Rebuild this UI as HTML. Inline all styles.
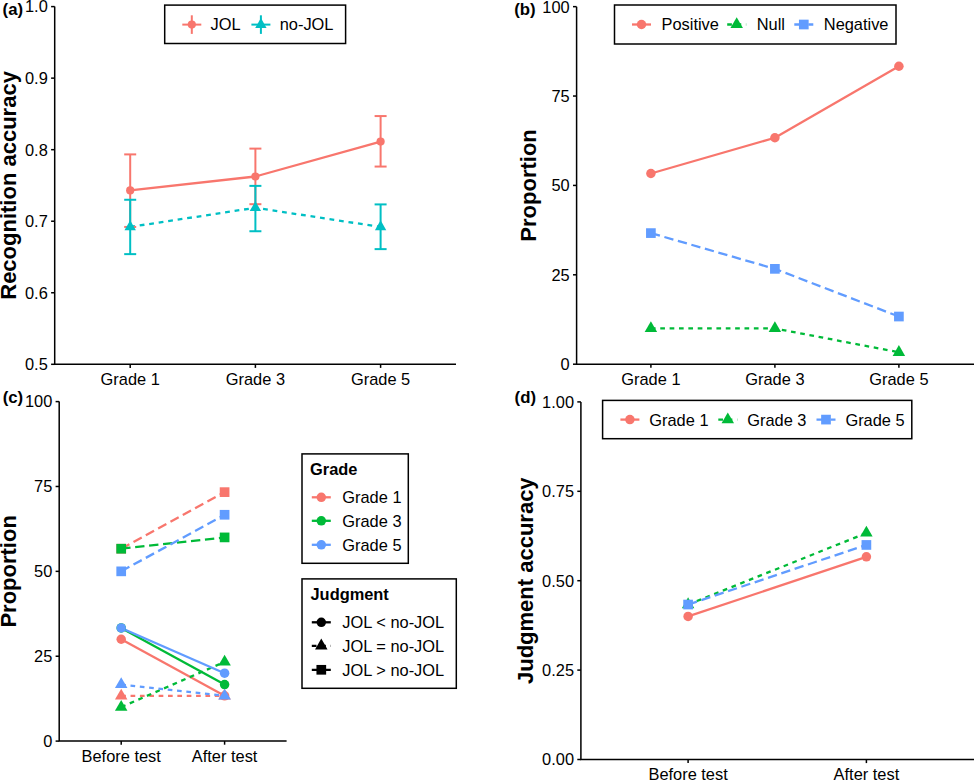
<!DOCTYPE html>
<html><head><meta charset="utf-8"><title>Figure</title>
<style>html,body{margin:0;padding:0;background:#fff;}svg{display:block;}</style>
</head><body>
<svg width="974" height="780" viewBox="0 0 974 780" font-family='"Liberation Sans", Arial, Helvetica, sans-serif'>
<rect width="974" height="780" fill="#fff"/>
<path d="M54.70,6.60 V364.30 H456.00" fill="none" stroke="#000" stroke-width="1.5" stroke-linecap="butt"/>
<line x1="51.10" y1="364.30" x2="54.70" y2="364.30" stroke="#000" stroke-width="1.5" stroke-linecap="butt"/>
<text x="47.80" y="370.17" font-size="16.4" text-anchor="end" fill="#000">0.5</text>
<line x1="51.10" y1="292.76" x2="54.70" y2="292.76" stroke="#000" stroke-width="1.5" stroke-linecap="butt"/>
<text x="47.80" y="298.63" font-size="16.4" text-anchor="end" fill="#000">0.6</text>
<line x1="51.10" y1="221.22" x2="54.70" y2="221.22" stroke="#000" stroke-width="1.5" stroke-linecap="butt"/>
<text x="47.80" y="227.09" font-size="16.4" text-anchor="end" fill="#000">0.7</text>
<line x1="51.10" y1="149.68" x2="54.70" y2="149.68" stroke="#000" stroke-width="1.5" stroke-linecap="butt"/>
<text x="47.80" y="155.55" font-size="16.4" text-anchor="end" fill="#000">0.8</text>
<line x1="51.10" y1="78.14" x2="54.70" y2="78.14" stroke="#000" stroke-width="1.5" stroke-linecap="butt"/>
<text x="47.80" y="84.01" font-size="16.4" text-anchor="end" fill="#000">0.9</text>
<line x1="51.10" y1="6.60" x2="54.70" y2="6.60" stroke="#000" stroke-width="1.5" stroke-linecap="butt"/>
<text x="47.80" y="12.47" font-size="16.4" text-anchor="end" fill="#000">1.0</text>
<line x1="130.20" y1="364.30" x2="130.20" y2="367.90" stroke="#000" stroke-width="1.5" stroke-linecap="butt"/>
<text x="130.20" y="384.84" font-size="16.4" text-anchor="middle" fill="#000">Grade 1</text>
<line x1="255.40" y1="364.30" x2="255.40" y2="367.90" stroke="#000" stroke-width="1.5" stroke-linecap="butt"/>
<text x="255.40" y="384.84" font-size="16.4" text-anchor="middle" fill="#000">Grade 3</text>
<line x1="380.60" y1="364.30" x2="380.60" y2="367.90" stroke="#000" stroke-width="1.5" stroke-linecap="butt"/>
<text x="380.60" y="384.84" font-size="16.4" text-anchor="middle" fill="#000">Grade 5</text>
<text x="16.20" y="185.45" font-size="22.0" text-anchor="middle" font-weight="bold" transform="rotate(-90 16.20 185.45)" fill="#000">Recognition accuracy</text>
<text x="2.60" y="15.00" font-size="16.8" text-anchor="start" font-weight="bold" fill="#000">(a)</text>
<polyline points="130.20,190.46 255.40,176.51 380.60,141.60" fill="none" stroke="#F8766D" stroke-width="2.3" stroke-linejoin="round"/>
<polyline points="130.20,226.94 255.40,207.77 380.60,226.94" fill="none" stroke="#00BFC4" stroke-width="2.3" stroke-dasharray="4.8 4.8" stroke-linejoin="round"/>
<line x1="130.20" y1="226.94" x2="130.20" y2="154.40" stroke="#F8766D" stroke-width="2.0" stroke-linecap="butt"/>
<line x1="124.20" y1="226.94" x2="136.20" y2="226.94" stroke="#F8766D" stroke-width="2.0" stroke-linecap="butt"/>
<line x1="124.20" y1="154.40" x2="136.20" y2="154.40" stroke="#F8766D" stroke-width="2.0" stroke-linecap="butt"/>
<line x1="255.40" y1="204.19" x2="255.40" y2="148.61" stroke="#F8766D" stroke-width="2.0" stroke-linecap="butt"/>
<line x1="249.40" y1="204.19" x2="261.40" y2="204.19" stroke="#F8766D" stroke-width="2.0" stroke-linecap="butt"/>
<line x1="249.40" y1="148.61" x2="261.40" y2="148.61" stroke="#F8766D" stroke-width="2.0" stroke-linecap="butt"/>
<line x1="380.60" y1="166.56" x2="380.60" y2="116.06" stroke="#F8766D" stroke-width="2.0" stroke-linecap="butt"/>
<line x1="374.60" y1="166.56" x2="386.60" y2="166.56" stroke="#F8766D" stroke-width="2.0" stroke-linecap="butt"/>
<line x1="374.60" y1="116.06" x2="386.60" y2="116.06" stroke="#F8766D" stroke-width="2.0" stroke-linecap="butt"/>
<line x1="130.20" y1="254.13" x2="130.20" y2="199.76" stroke="#00BFC4" stroke-width="2.0" stroke-linecap="butt"/>
<line x1="124.20" y1="254.13" x2="136.20" y2="254.13" stroke="#00BFC4" stroke-width="2.0" stroke-linecap="butt"/>
<line x1="124.20" y1="199.76" x2="136.20" y2="199.76" stroke="#00BFC4" stroke-width="2.0" stroke-linecap="butt"/>
<line x1="255.40" y1="231.24" x2="255.40" y2="185.88" stroke="#00BFC4" stroke-width="2.0" stroke-linecap="butt"/>
<line x1="249.40" y1="231.24" x2="261.40" y2="231.24" stroke="#00BFC4" stroke-width="2.0" stroke-linecap="butt"/>
<line x1="249.40" y1="185.88" x2="261.40" y2="185.88" stroke="#00BFC4" stroke-width="2.0" stroke-linecap="butt"/>
<line x1="380.60" y1="249.12" x2="380.60" y2="204.41" stroke="#00BFC4" stroke-width="2.0" stroke-linecap="butt"/>
<line x1="374.60" y1="249.12" x2="386.60" y2="249.12" stroke="#00BFC4" stroke-width="2.0" stroke-linecap="butt"/>
<line x1="374.60" y1="204.41" x2="386.60" y2="204.41" stroke="#00BFC4" stroke-width="2.0" stroke-linecap="butt"/>
<circle cx="130.20" cy="190.46" r="4.10" fill="#F8766D"/>
<circle cx="255.40" cy="176.51" r="4.10" fill="#F8766D"/>
<circle cx="380.60" cy="141.60" r="4.10" fill="#F8766D"/>
<polygon points="130.20,220.37 135.90,230.23 124.50,230.23" fill="#00BFC4"/>
<polygon points="255.40,201.19 261.10,211.06 249.70,211.06" fill="#00BFC4"/>
<polygon points="380.60,220.37 386.30,230.23 374.90,230.23" fill="#00BFC4"/>
<rect x="164.70" y="5.10" width="180.90" height="38.40" fill="#fff" stroke="#000" stroke-width="1.5"/>
<line x1="182.30" y1="24.60" x2="201.30" y2="24.60" stroke="#F8766D" stroke-width="2.0" stroke-linecap="butt"/>
<line x1="191.80" y1="15.30" x2="191.80" y2="33.90" stroke="#F8766D" stroke-width="2.0" stroke-linecap="butt"/>
<circle cx="191.80" cy="24.60" r="4.10" fill="#F8766D"/>
<line x1="251.40" y1="24.60" x2="270.40" y2="24.60" stroke="#00BFC4" stroke-width="2.0" stroke-linecap="butt"/>
<line x1="260.90" y1="15.30" x2="260.90" y2="33.90" stroke="#00BFC4" stroke-width="2.0" stroke-linecap="butt"/>
<polygon points="260.90,18.02 266.60,27.89 255.20,27.89" fill="#00BFC4"/>
<text x="210.50" y="30.47" font-size="16.4" text-anchor="start" fill="#000">JOL</text>
<text x="279.70" y="30.47" font-size="16.4" text-anchor="start" fill="#000">no-JOL</text>
<path d="M576.60,6.65 V364.20 H975.00" fill="none" stroke="#000" stroke-width="1.5" stroke-linecap="butt"/>
<line x1="573.00" y1="364.20" x2="576.60" y2="364.20" stroke="#000" stroke-width="1.5" stroke-linecap="butt"/>
<text x="569.70" y="370.07" font-size="16.4" text-anchor="end" fill="#000">0</text>
<line x1="573.00" y1="274.81" x2="576.60" y2="274.81" stroke="#000" stroke-width="1.5" stroke-linecap="butt"/>
<text x="569.70" y="280.68" font-size="16.4" text-anchor="end" fill="#000">25</text>
<line x1="573.00" y1="185.42" x2="576.60" y2="185.42" stroke="#000" stroke-width="1.5" stroke-linecap="butt"/>
<text x="569.70" y="191.30" font-size="16.4" text-anchor="end" fill="#000">50</text>
<line x1="573.00" y1="96.04" x2="576.60" y2="96.04" stroke="#000" stroke-width="1.5" stroke-linecap="butt"/>
<text x="569.70" y="101.91" font-size="16.4" text-anchor="end" fill="#000">75</text>
<line x1="573.00" y1="6.65" x2="576.60" y2="6.65" stroke="#000" stroke-width="1.5" stroke-linecap="butt"/>
<text x="569.70" y="12.52" font-size="16.4" text-anchor="end" fill="#000">100</text>
<line x1="650.90" y1="364.20" x2="650.90" y2="367.80" stroke="#000" stroke-width="1.5" stroke-linecap="butt"/>
<text x="650.90" y="384.74" font-size="16.4" text-anchor="middle" fill="#000">Grade 1</text>
<line x1="774.90" y1="364.20" x2="774.90" y2="367.80" stroke="#000" stroke-width="1.5" stroke-linecap="butt"/>
<text x="774.90" y="384.74" font-size="16.4" text-anchor="middle" fill="#000">Grade 3</text>
<line x1="898.90" y1="364.20" x2="898.90" y2="367.80" stroke="#000" stroke-width="1.5" stroke-linecap="butt"/>
<text x="898.90" y="384.74" font-size="16.4" text-anchor="middle" fill="#000">Grade 5</text>
<text x="536.20" y="185.42" font-size="22.0" text-anchor="middle" font-weight="bold" transform="rotate(-90 536.20 185.42)" fill="#000">Proportion</text>
<text x="514.20" y="15.00" font-size="16.8" text-anchor="start" font-weight="bold" fill="#000">(b)</text>
<polyline points="650.90,173.51 774.90,137.75 898.90,66.24" fill="none" stroke="#F8766D" stroke-width="2.3" stroke-linejoin="round"/>
<polyline points="650.90,328.44 774.90,328.44 898.90,352.28" fill="none" stroke="#00BA38" stroke-width="2.3" stroke-dasharray="4.68 4.68" stroke-linejoin="round"/>
<polyline points="650.90,233.10 774.90,268.85 898.90,316.53" fill="none" stroke="#619CFF" stroke-width="2.3" stroke-dasharray="9.36 4.68" stroke-linejoin="round"/>
<circle cx="650.90" cy="173.51" r="4.75" fill="#F8766D"/>
<circle cx="774.90" cy="137.75" r="4.75" fill="#F8766D"/>
<circle cx="898.90" cy="66.24" r="4.75" fill="#F8766D"/>
<polygon points="650.90,321.24 657.14,332.05 644.66,332.05" fill="#00BA38"/>
<polygon points="774.90,321.24 781.14,332.05 768.66,332.05" fill="#00BA38"/>
<polygon points="898.90,345.08 905.14,355.88 892.66,355.88" fill="#00BA38"/>
<rect x="646.05" y="228.25" width="9.69" height="9.69" fill="#619CFF"/>
<rect x="770.05" y="264.01" width="9.69" height="9.69" fill="#619CFF"/>
<rect x="894.05" y="311.68" width="9.69" height="9.69" fill="#619CFF"/>
<rect x="614.50" y="5.00" width="281.50" height="39.00" fill="#fff" stroke="#000" stroke-width="1.5"/>
<line x1="632.00" y1="24.50" x2="651.00" y2="24.50" stroke="#F8766D" stroke-width="2.3" stroke-linecap="butt"/>
<circle cx="641.50" cy="24.50" r="4.75" fill="#F8766D"/>
<text x="661.50" y="30.37" font-size="16.4" text-anchor="start" fill="#000">Positive</text>
<line x1="727.20" y1="24.50" x2="746.20" y2="24.50" stroke="#00BA38" stroke-width="2.3" stroke-linecap="butt" stroke-dasharray="4.68 4.68"/>
<polygon points="736.70,17.30 742.94,28.10 730.46,28.10" fill="#00BA38"/>
<text x="756.70" y="30.37" font-size="16.4" text-anchor="start" fill="#000">Null</text>
<line x1="794.30" y1="24.50" x2="813.30" y2="24.50" stroke="#619CFF" stroke-width="2.3" stroke-linecap="butt" stroke-dasharray="9.36 4.68"/>
<rect x="798.95" y="19.66" width="9.69" height="9.69" fill="#619CFF"/>
<text x="823.80" y="30.37" font-size="16.4" text-anchor="start" fill="#000">Negative</text>
<path d="M59.20,401.60 V741.10 H286.60" fill="none" stroke="#000" stroke-width="1.5" stroke-linecap="butt"/>
<line x1="55.60" y1="741.10" x2="59.20" y2="741.10" stroke="#000" stroke-width="1.5" stroke-linecap="butt"/>
<text x="52.30" y="746.97" font-size="16.4" text-anchor="end" fill="#000">0</text>
<line x1="55.60" y1="656.23" x2="59.20" y2="656.23" stroke="#000" stroke-width="1.5" stroke-linecap="butt"/>
<text x="52.30" y="662.10" font-size="16.4" text-anchor="end" fill="#000">25</text>
<line x1="55.60" y1="571.35" x2="59.20" y2="571.35" stroke="#000" stroke-width="1.5" stroke-linecap="butt"/>
<text x="52.30" y="577.22" font-size="16.4" text-anchor="end" fill="#000">50</text>
<line x1="55.60" y1="486.48" x2="59.20" y2="486.48" stroke="#000" stroke-width="1.5" stroke-linecap="butt"/>
<text x="52.30" y="492.35" font-size="16.4" text-anchor="end" fill="#000">75</text>
<line x1="55.60" y1="401.60" x2="59.20" y2="401.60" stroke="#000" stroke-width="1.5" stroke-linecap="butt"/>
<text x="52.30" y="407.47" font-size="16.4" text-anchor="end" fill="#000">100</text>
<line x1="121.20" y1="741.10" x2="121.20" y2="744.70" stroke="#000" stroke-width="1.5" stroke-linecap="butt"/>
<text x="121.20" y="761.64" font-size="16.4" text-anchor="middle" fill="#000">Before test</text>
<line x1="224.60" y1="741.10" x2="224.60" y2="744.70" stroke="#000" stroke-width="1.5" stroke-linecap="butt"/>
<text x="224.60" y="761.64" font-size="16.4" text-anchor="middle" fill="#000">After test</text>
<text x="16.50" y="571.35" font-size="22.0" text-anchor="middle" font-weight="bold" transform="rotate(-90 16.50 571.35)" fill="#000">Proportion</text>
<text x="2.70" y="403.40" font-size="16.8" text-anchor="start" font-weight="bold" fill="#000">(c)</text>
<polyline points="121.20,639.25 224.60,695.83" fill="none" stroke="#F8766D" stroke-width="2.3" stroke-linejoin="round"/>
<polyline points="121.20,695.83 224.60,695.83" fill="none" stroke="#F8766D" stroke-width="2.3" stroke-dasharray="4.68 4.68" stroke-linejoin="round"/>
<polyline points="121.20,548.72 224.60,492.13" fill="none" stroke="#F8766D" stroke-width="2.3" stroke-dasharray="9.36 4.68" stroke-linejoin="round"/>
<polyline points="121.20,627.93 224.60,684.52" fill="none" stroke="#00BA38" stroke-width="2.3" stroke-linejoin="round"/>
<polyline points="121.20,707.15 224.60,661.88" fill="none" stroke="#00BA38" stroke-width="2.3" stroke-dasharray="4.68 4.68" stroke-linejoin="round"/>
<polyline points="121.20,548.72 224.60,537.40" fill="none" stroke="#00BA38" stroke-width="2.3" stroke-dasharray="9.36 4.68" stroke-linejoin="round"/>
<polyline points="121.20,627.93 224.60,673.20" fill="none" stroke="#619CFF" stroke-width="2.3" stroke-linejoin="round"/>
<polyline points="121.20,684.52 224.60,695.83" fill="none" stroke="#619CFF" stroke-width="2.3" stroke-dasharray="4.68 4.68" stroke-linejoin="round"/>
<polyline points="121.20,571.35 224.60,514.77" fill="none" stroke="#619CFF" stroke-width="2.3" stroke-dasharray="9.36 4.68" stroke-linejoin="round"/>
<circle cx="121.20" cy="639.25" r="4.75" fill="#F8766D"/>
<circle cx="224.60" cy="695.83" r="4.75" fill="#F8766D"/>
<polygon points="121.20,688.63 127.44,699.43 114.96,699.43" fill="#F8766D"/>
<polygon points="224.60,688.63 230.84,699.43 218.36,699.43" fill="#F8766D"/>
<rect x="116.36" y="543.87" width="9.69" height="9.69" fill="#F8766D"/>
<rect x="219.75" y="487.29" width="9.69" height="9.69" fill="#F8766D"/>
<circle cx="121.20" cy="627.93" r="4.75" fill="#00BA38"/>
<circle cx="224.60" cy="684.52" r="4.75" fill="#00BA38"/>
<polygon points="121.20,699.95 127.44,710.75 114.96,710.75" fill="#00BA38"/>
<polygon points="224.60,654.68 230.84,665.48 218.36,665.48" fill="#00BA38"/>
<rect x="116.36" y="543.87" width="9.69" height="9.69" fill="#00BA38"/>
<rect x="219.75" y="532.56" width="9.69" height="9.69" fill="#00BA38"/>
<circle cx="121.20" cy="627.93" r="4.75" fill="#619CFF"/>
<circle cx="224.60" cy="673.20" r="4.75" fill="#619CFF"/>
<polygon points="121.20,677.31 127.44,688.12 114.96,688.12" fill="#619CFF"/>
<polygon points="224.60,688.63 230.84,699.43 218.36,699.43" fill="#619CFF"/>
<rect x="116.36" y="566.50" width="9.69" height="9.69" fill="#619CFF"/>
<rect x="219.75" y="509.92" width="9.69" height="9.69" fill="#619CFF"/>
<rect x="302.00" y="453.90" width="106.30" height="109.40" fill="#fff" stroke="#000" stroke-width="1.5"/>
<text x="310.00" y="475.30" font-size="16.4" text-anchor="start" font-weight="bold" fill="#000">Grade</text>
<line x1="311.80" y1="497.30" x2="330.80" y2="497.30" stroke="#F8766D" stroke-width="2.3" stroke-linecap="butt"/>
<circle cx="321.30" cy="497.30" r="4.75" fill="#F8766D"/>
<text x="342.30" y="503.17" font-size="16.4" text-anchor="start" fill="#000">Grade 1</text>
<line x1="311.80" y1="520.80" x2="330.80" y2="520.80" stroke="#00BA38" stroke-width="2.3" stroke-linecap="butt"/>
<circle cx="321.30" cy="520.80" r="4.75" fill="#00BA38"/>
<text x="342.30" y="526.67" font-size="16.4" text-anchor="start" fill="#000">Grade 3</text>
<line x1="311.80" y1="544.80" x2="330.80" y2="544.80" stroke="#619CFF" stroke-width="2.3" stroke-linecap="butt"/>
<circle cx="321.30" cy="544.80" r="4.75" fill="#619CFF"/>
<text x="342.30" y="550.67" font-size="16.4" text-anchor="start" fill="#000">Grade 5</text>
<rect x="302.00" y="578.90" width="154.30" height="109.40" fill="#fff" stroke="#000" stroke-width="1.5"/>
<text x="310.50" y="600.00" font-size="16.4" text-anchor="start" font-weight="bold" fill="#000">Judgment</text>
<line x1="311.80" y1="622.30" x2="330.80" y2="622.30" stroke="#000" stroke-width="2.3" stroke-linecap="butt"/>
<circle cx="321.30" cy="622.30" r="4.75" fill="#000"/>
<text x="342.30" y="628.17" font-size="16.4" text-anchor="start" fill="#000">JOL &lt; no-JOL</text>
<line x1="311.80" y1="645.80" x2="330.80" y2="645.80" stroke="#000" stroke-width="2.3" stroke-linecap="butt" stroke-dasharray="4.68 4.68"/>
<polygon points="321.30,638.60 327.54,649.40 315.06,649.40" fill="#000"/>
<text x="342.30" y="651.67" font-size="16.4" text-anchor="start" fill="#000">JOL = no-JOL</text>
<line x1="311.80" y1="669.80" x2="330.80" y2="669.80" stroke="#000" stroke-width="2.3" stroke-linecap="butt" stroke-dasharray="9.36 4.68"/>
<rect x="316.45" y="664.95" width="9.69" height="9.69" fill="#000"/>
<text x="342.30" y="675.67" font-size="16.4" text-anchor="start" fill="#000">JOL &gt; no-JOL</text>
<path d="M580.90,401.90 V759.50 H975.00" fill="none" stroke="#000" stroke-width="1.5" stroke-linecap="butt"/>
<line x1="577.30" y1="759.50" x2="580.90" y2="759.50" stroke="#000" stroke-width="1.5" stroke-linecap="butt"/>
<text x="574.00" y="765.37" font-size="16.4" text-anchor="end" fill="#000">0.00</text>
<line x1="577.30" y1="670.10" x2="580.90" y2="670.10" stroke="#000" stroke-width="1.5" stroke-linecap="butt"/>
<text x="574.00" y="675.97" font-size="16.4" text-anchor="end" fill="#000">0.25</text>
<line x1="577.30" y1="580.70" x2="580.90" y2="580.70" stroke="#000" stroke-width="1.5" stroke-linecap="butt"/>
<text x="574.00" y="586.57" font-size="16.4" text-anchor="end" fill="#000">0.50</text>
<line x1="577.30" y1="491.30" x2="580.90" y2="491.30" stroke="#000" stroke-width="1.5" stroke-linecap="butt"/>
<text x="574.00" y="497.17" font-size="16.4" text-anchor="end" fill="#000">0.75</text>
<line x1="577.30" y1="401.90" x2="580.90" y2="401.90" stroke="#000" stroke-width="1.5" stroke-linecap="butt"/>
<text x="574.00" y="407.77" font-size="16.4" text-anchor="end" fill="#000">1.00</text>
<line x1="688.10" y1="759.50" x2="688.10" y2="763.10" stroke="#000" stroke-width="1.5" stroke-linecap="butt"/>
<text x="688.10" y="780.04" font-size="16.4" text-anchor="middle" fill="#000">Before test</text>
<line x1="866.40" y1="759.50" x2="866.40" y2="763.10" stroke="#000" stroke-width="1.5" stroke-linecap="butt"/>
<text x="866.40" y="780.04" font-size="16.4" text-anchor="middle" fill="#000">After test</text>
<text x="533.50" y="580.70" font-size="22.0" text-anchor="middle" font-weight="bold" transform="rotate(-90 533.50 580.70)" fill="#000">Judgment accuracy</text>
<text x="514.60" y="403.40" font-size="16.8" text-anchor="start" font-weight="bold" fill="#000">(d)</text>
<polyline points="688.10,616.46 866.40,556.86" fill="none" stroke="#F8766D" stroke-width="2.3" stroke-linejoin="round"/>
<polyline points="688.10,604.54 866.40,533.02" fill="none" stroke="#00BA38" stroke-width="2.3" stroke-dasharray="4.68 4.68" stroke-linejoin="round"/>
<polyline points="688.10,604.54 866.40,544.94" fill="none" stroke="#619CFF" stroke-width="2.3" stroke-dasharray="9.36 4.68" stroke-linejoin="round"/>
<circle cx="688.10" cy="616.46" r="4.75" fill="#F8766D"/>
<circle cx="866.40" cy="556.86" r="4.75" fill="#F8766D"/>
<polygon points="688.10,597.34 694.34,608.14 681.86,608.14" fill="#00BA38"/>
<polygon points="866.40,525.82 872.64,536.62 860.16,536.62" fill="#00BA38"/>
<rect x="683.25" y="599.69" width="9.69" height="9.69" fill="#619CFF"/>
<rect x="861.55" y="540.10" width="9.69" height="9.69" fill="#619CFF"/>
<rect x="602.60" y="400.40" width="309.20" height="38.30" fill="#fff" stroke="#000" stroke-width="1.5"/>
<line x1="620.40" y1="419.60" x2="639.40" y2="419.60" stroke="#F8766D" stroke-width="2.3" stroke-linecap="butt"/>
<circle cx="629.90" cy="419.60" r="4.75" fill="#F8766D"/>
<text x="649.30" y="425.97" font-size="16.4" text-anchor="start" fill="#000">Grade 1</text>
<line x1="718.30" y1="419.60" x2="737.30" y2="419.60" stroke="#00BA38" stroke-width="2.3" stroke-linecap="butt" stroke-dasharray="4.68 4.68"/>
<polygon points="727.80,412.40 734.04,423.20 721.56,423.20" fill="#00BA38"/>
<text x="747.20" y="425.97" font-size="16.4" text-anchor="start" fill="#000">Grade 3</text>
<line x1="816.50" y1="419.60" x2="835.50" y2="419.60" stroke="#619CFF" stroke-width="2.3" stroke-linecap="butt" stroke-dasharray="9.36 4.68"/>
<rect x="821.15" y="414.75" width="9.69" height="9.69" fill="#619CFF"/>
<text x="845.40" y="425.97" font-size="16.4" text-anchor="start" fill="#000">Grade 5</text>
</svg>
</body></html>
